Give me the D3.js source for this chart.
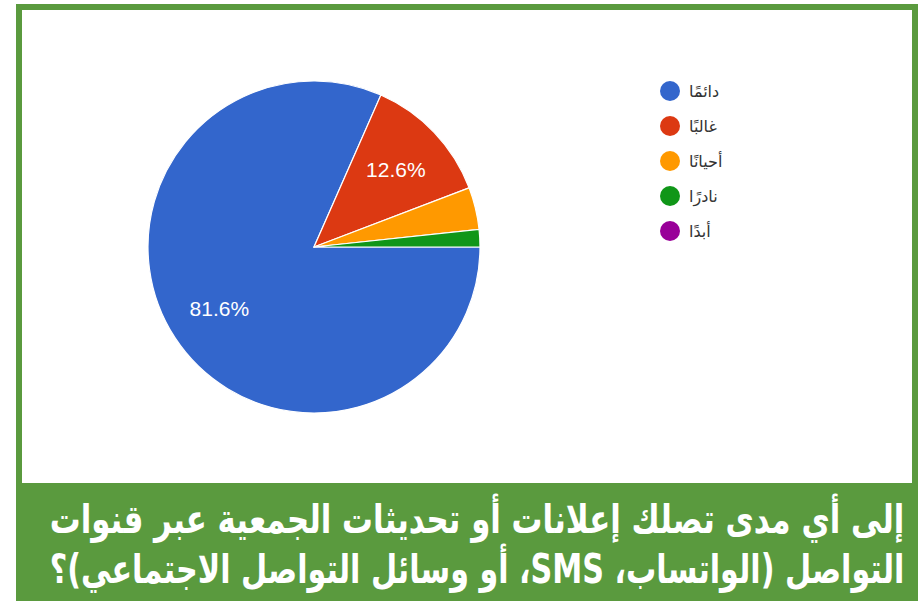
<!DOCTYPE html>
<html><head><meta charset="utf-8">
<script src="https://cdn.jsdelivr.net/npm/d3@7"></script>
<style>html,body{margin:0;padding:0;background:#fff}svg{display:block}</style>
</head><body>
<svg id="chart" width="923" height="601"></svg>
<script>
const categories = ["دائمًا", "غالبًا", "أحيانًا", "نادرًا", "أبدًا"];
const values = [81.6, 12.6, 4.1, 1.7, 0];
const colors = ["#3366cc", "#dc3912", "#ff9900", "#109618", "#990099"];
const titleLines = [
  "إلى أي مدى تصلك إعلانات أو تحديثات الجمعية عبر قنوات",
  "التواصل (الواتساب، SMS، أو وسائل التواصل الاجتماعي)؟"
];

const svg = d3.select("#chart");
const green = "#5a9a3e";

// frame
svg.append("rect").attr("x", 19).attr("y", 7).attr("width", 896).attr("height", 590)
  .attr("fill", "#fff").attr("stroke", green).attr("stroke-width", 6);
// title band
svg.append("rect").attr("x", 16).attr("y", 483).attr("width", 902).attr("height", 118).attr("fill", green);

const cx = 314, cy = 247, r = 166;
const pie = d3.pie().value(d => d).sort(null)
  .startAngle(Math.PI / 2).endAngle(Math.PI / 2 + 2 * Math.PI);
const arcs = pie(values);
const arc = d3.arc().innerRadius(0).outerRadius(r);
const labelArc = d3.arc().innerRadius(226).outerRadius(0);

const g = svg.append("g").attr("transform", `translate(${cx},${cy})`);
g.selectAll("path").data(arcs).join("path")
  .attr("d", arc).attr("fill", (d, i) => colors[i])
  .attr("stroke", "#fff").attr("stroke-width", d => d.value > 0 ? 1.2 : 0);

const total = d3.sum(values);
g.selectAll("text.lbl").data(arcs.filter(d => d.value / total > 0.05)).join("text")
  .attr("class", "lbl")
  .attr("transform", d => `translate(${labelArc.centroid(d)})`)
  .attr("text-anchor", "middle").attr("dy", "0.36em")
  .attr("fill", "#fff").attr("font-family", "Liberation Sans, Arial, sans-serif")
  .attr("font-size", 21)
  .text(d => d.value.toFixed(1) + "%");

// legend
const ly = d3.scalePoint().domain(categories).range([91, 231]);
const leg = svg.append("g");
leg.selectAll("circle").data(categories).join("circle")
  .attr("cx", 670).attr("cy", d => ly(d)).attr("r", 10)
  .attr("fill", (d, i) => colors[i]);
leg.selectAll("text").data(categories).join("text")
  .attr("x", 689).attr("y", d => ly(d)).attr("dy", "0.35em")
  .attr("text-anchor", "start").attr("direction", "ltr")
  .attr("font-family", "DejaVu Sans, sans-serif").attr("font-size", 16)
  .attr("fill", "#333").text(d => d);

// title: render at natural size then scale horizontally to fit the band
const ty = d3.scalePoint().domain(titleLines).range([533, 583]);
const targetW = 855, midX = 477;
svg.selectAll("g.title").data(titleLines).join("g")
  .attr("class", "title")
  .each(function (d) {
    const gg = d3.select(this);
    const t = gg.append("text")
      .attr("x", 0).attr("y", 0)
      .attr("text-anchor", "middle").attr("direction", "rtl")
      .style("direction", "rtl").style("unicode-bidi", "embed")
      .attr("font-family", "DejaVu Sans, sans-serif").attr("font-weight", "bold")
      .attr("font-size", 40).attr("fill", "#fff")
      .text(d);
    const w = t.node().getComputedTextLength();
    gg.attr("transform", `translate(${midX},${ty(d)}) scale(${targetW / w},1)`);
  });
</script>
</body></html>
